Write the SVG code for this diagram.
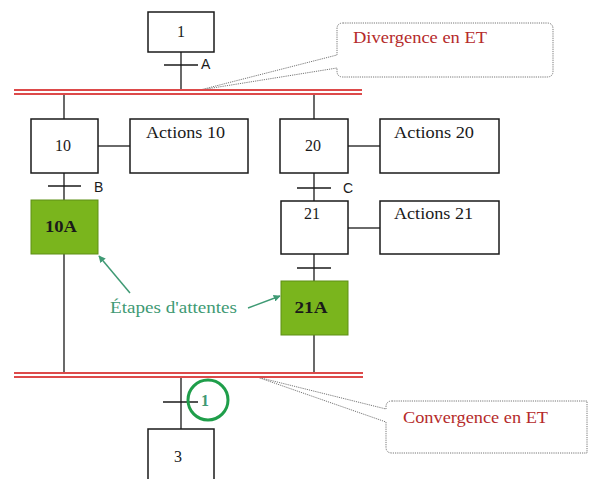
<svg xmlns="http://www.w3.org/2000/svg" width="589" height="479" viewBox="0 0 589 479">
<defs>
<style>
.box{fill:#fff;stroke:#1a1a1a;stroke-width:1.5}
.wait{fill:#7ab51d;stroke:#5f8f17;stroke-width:1}
.ln{stroke:#1a1a1a;stroke-width:1.3;fill:none}
.red{stroke:#dd4a4a;stroke-width:2;fill:none}
.call{fill:#fff;stroke:#777;stroke-width:1;stroke-dasharray:1.2 1}
.t{font-family:"Liberation Serif","Times New Roman",serif;font-size:16px;fill:#1a1a1a}
.lab{font-family:"Liberation Sans",Arial,sans-serif;font-size:14px;fill:#1a1a1a}
.rt{font-family:"Liberation Serif","Times New Roman",serif;font-size:16px;fill:#b52a2a}
.gt{font-family:"Liberation Serif","Times New Roman",serif;font-size:16px;fill:#3f9a74}
.ga{stroke:#3f9a74;stroke-width:1.5;fill:none}
</style>
<marker id="ah" viewBox="0 0 10 10" refX="9" refY="5" markerWidth="7" markerHeight="7" orient="auto" markerUnits="userSpaceOnUse">
<path d="M0,0 L10,5 L0,10 z" fill="#3f9a74"/>
</marker>
</defs>
<rect width="589" height="479" fill="#fff"/>

<g id="callouts">
<path class="call" d="M343,23 H547 Q553,23 553,29 V71 Q553,77 547,77 H343 Q337,77 337,71 V68 L200,90 L337,55 V29 Q337,23 343,23 Z"/>
<text class="rt" x="353" y="43" textLength="134" lengthAdjust="spacingAndGlyphs">Divergence  en ET</text>
<path class="call" d="M392,401 H587 V453 H392 Q386,453 386,447 V422 L257,377 L386,409 V407 Q386,401 392,401 Z"/>
<text class="rt" x="403" y="423" textLength="145" lengthAdjust="spacingAndGlyphs">Convergence en ET</text>
</g>

<g id="connectors">
<line class="ln" x1="181" y1="52" x2="181" y2="91"/>
<line class="ln" x1="164" y1="65" x2="198" y2="65"/>
<line class="red" x1="14" y1="90" x2="362" y2="90"/>
<line class="red" x1="14" y1="94" x2="362" y2="94"/>
<line class="ln" x1="64" y1="95" x2="64" y2="119"/>
<line class="ln" x1="314" y1="95" x2="314" y2="119"/>
<line class="ln" x1="98" y1="146" x2="130" y2="146"/>
<line class="ln" x1="348" y1="146" x2="380" y2="146"/>
<line class="ln" x1="64" y1="173" x2="64" y2="200"/>
<line class="ln" x1="48" y1="186" x2="81" y2="186"/>
<line class="ln" x1="314" y1="173" x2="314" y2="201"/>
<line class="ln" x1="297" y1="188" x2="331" y2="188"/>
<line class="ln" x1="348" y1="228" x2="380" y2="228"/>
<line class="ln" x1="314" y1="254" x2="314" y2="281"/>
<line class="ln" x1="297" y1="268" x2="331" y2="268"/>
<line class="ln" x1="64" y1="254" x2="64" y2="373"/>
<line class="ln" x1="314" y1="335" x2="314" y2="373"/>
<line class="red" x1="14" y1="373" x2="363" y2="373"/>
<line class="red" x1="14" y1="377" x2="363" y2="377"/>
<line class="ln" x1="181" y1="378" x2="181" y2="429"/>
<line class="ln" x1="163" y1="402" x2="198" y2="402"/>
<line class="ga" x1="130" y1="293" x2="99" y2="256" marker-end="url(#ah)"/>
<line class="ga" x1="248" y1="308" x2="280" y2="296" marker-end="url(#ah)"/>
</g>

<text class="lab" x="201" y="69">A</text>
<text class="lab" x="94" y="192">B</text>
<text class="lab" x="343" y="193">C</text>

<g id="step1"><rect class="box" x="148" y="12" width="66" height="40"/><text class="t" x="181" y="37" text-anchor="middle">1</text></g>
<g id="step10"><rect class="box" x="31" y="119" width="67" height="54"/><text class="t" x="63" y="151" text-anchor="middle">10</text></g>
<g id="actions10"><rect class="box" x="130" y="119" width="118" height="54"/><text class="t" x="146" y="138" textLength="79" lengthAdjust="spacingAndGlyphs">Actions 10</text></g>
<g id="step20"><rect class="box" x="280" y="119" width="68" height="54"/><text class="t" x="313" y="151" text-anchor="middle">20</text></g>
<g id="actions20"><rect class="box" x="380" y="119" width="119" height="54"/><text class="t" x="394" y="138" textLength="80" lengthAdjust="spacingAndGlyphs">Actions 20</text></g>
<g id="step10A"><rect class="wait" x="31" y="200" width="67" height="54"/><text class="t" x="61" y="232" text-anchor="middle" font-weight="bold" textLength="32" lengthAdjust="spacingAndGlyphs">10A</text></g>
<g id="step21"><rect class="box" x="281" y="201" width="67" height="53"/><text class="t" x="312" y="219" text-anchor="middle">21</text></g>
<g id="actions21"><rect class="box" x="380" y="201" width="119" height="53"/><text class="t" x="394" y="219" textLength="79" lengthAdjust="spacingAndGlyphs">Actions 21</text></g>
<g id="step21A"><rect class="wait" x="281" y="281" width="67" height="54"/><text class="t" x="311" y="313" text-anchor="middle" font-weight="bold" textLength="33" lengthAdjust="spacingAndGlyphs">21A</text></g>
<g id="step3"><rect class="box" x="148" y="429" width="66" height="60"/><text class="t" x="178" y="462" text-anchor="middle">3</text></g>

<g id="note-attente"><text class="gt" x="110" y="313" textLength="127" lengthAdjust="spacingAndGlyphs">Étapes d'attentes</text></g>
<g id="mark-1"><circle cx="208" cy="400" r="20" fill="none" stroke="#1f9e4a" stroke-width="3"/><text class="gt" x="205" y="406" text-anchor="middle" font-weight="bold">1</text></g>
</svg>
